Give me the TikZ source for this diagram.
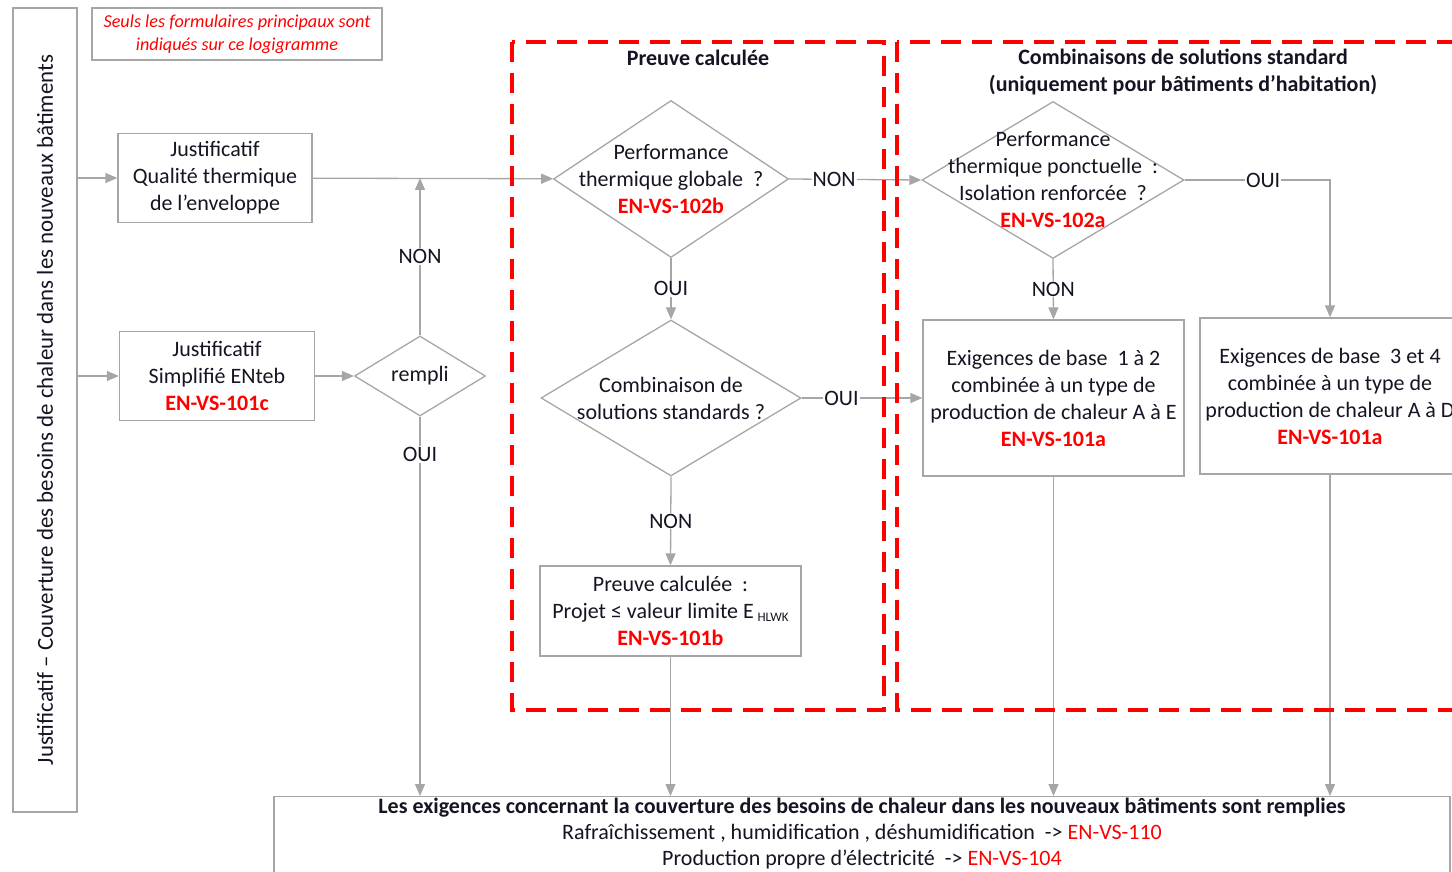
\documentclass[tikz,border=0pt]{standalone}
\usepackage{fontspec}
\setmainfont{Carlito}
\usepackage{tikz}
\usetikzlibrary{shapes.geometric,arrows.meta}
\definecolor{trait}{RGB}{166,166,166}
\definecolor{rouge}{RGB}{255,0,0}
\definecolor{encre}{RGB}{20,20,35}
\newcommand{\formu}[1]{{\bfseries\color{rouge}#1}}

\begin{document}
\begin{tikzpicture}[x=1pt,y=-1pt,
  font=\fontsize{22}{27}\selectfont, text=encre,
  boite/.style={draw=trait,line width=1.3pt,align=center,inner sep=0pt},
  losange/.style={draw=trait,line width=1.3pt,diamond,inner sep=0pt},
  fleche/.style={draw=trait,line width=1.3pt,-{Triangle[length=12pt,width=10pt]}},
  etiq/.style={fill=white,inner sep=1pt},
  zone/.style={draw=rouge,line width=3.5pt,dash pattern=on 20pt off 11pt}]
\useasboundingbox (0,0) rectangle (1452,872);
\clip (0,0) rectangle (1452,872);

\node[boite,minimum width=64,minimum height=804] (titre) at (45,410) {\rotatebox{90}{\fontsize{22.9}{27}\selectfont Justificatif – Couverture des besoins de chaleur dans les nouveaux bâtiments}};
\node[boite,minimum width=290,minimum height=52,font=\fontsize{18.2}{23}\selectfont\itshape,text=rouge] (note) at (237,34) {Seuls les formulaires principaux sont\\indiqués sur ce logigramme};

\node[boite,minimum width=194,minimum height=89] (qualite) at (215,178) {Justificatif\\Qualité thermique\\de l’enveloppe};
\node[boite,minimum width=195,minimum height=89] (enteb) at (217,376) {Justificatif\\Simplifié ENteb\\\formu{EN-VS-101c}};
\node[losange,minimum width=131,minimum height=80] (rempli) at (420,376) {rempli};

\node[font=\fontsize{22}{27}\selectfont\bfseries] (titre1) at (698,58) {Preuve calculée};
\node[font=\fontsize{22}{27}\selectfont\bfseries,align=center] (titre2) at (1183,72) {Combinaisons de solutions standard\\(uniquement pour bâtiments d’habitation)};

\node[losange,minimum width=235,minimum height=157] (globale) at (671,179) {};
\node[align=center] (globalet) at (globale) {Performance\\thermique globale~~?\\\formu{EN-VS-102b}};
\node[losange,minimum width=260,minimum height=156] (combi) at (671,398) {};
\node[align=center] (combit) at (combi) {Combinaison de\\solutions standards ?};
\node[boite,minimum width=261,minimum height=90] (calcul) at (670.5,611) {Preuve calculée~~:\\Projet ≤ valeur limite E\,\raisebox{-3pt}{\fontsize{13}{13}\selectfont HLWK}\\\formu{EN-VS-101b}};

\node[losange,minimum width=262,minimum height=157] (ponct) at (1053,180) {};
\node[align=center] (ponctt) at (ponct) {Performance\\thermique ponctuelle~~:\\Isolation renforcée~~?\\\formu{EN-VS-102a}};
\node[boite,minimum width=261,minimum height=156] (base12) at (1053.5,398) {Exigences de base~~1 à 2\\combinée à un type de\\production de chaleur A à E\\\formu{EN-VS-101a}};
\node[boite,minimum width=260,minimum height=156] (base34) at (1330,396) {Exigences de base~~3 et 4\\combinée à un type de\\production de chaleur A à D\\\formu{EN-VS-101a}};

\node[boite,minimum width=1176,minimum height=120,anchor=north] (fin) at (862,796) {};
\node[font=\fontsize{22}{26}\selectfont,align=center,anchor=north,inner sep=0pt] (fintxt) at (862,798) {\textbf{Les exigences concernant la couverture des besoins de chaleur dans les nouveaux bâtiments sont remplies}\\Rafraîchissement , humidification , déshumidification~~-> \textcolor{rouge}{EN-VS-110}\\Production propre d’électricité~~-> \textcolor{rouge}{EN-VS-104}};

\draw[fleche] (titre.east |- qualite.west) -- (qualite.west);
\draw[fleche] (titre.east |- enteb.west) -- (enteb.west);
\draw[fleche] (qualite) -- (globale);
\draw[fleche] (enteb) -- (rempli);
\draw[fleche] (rempli.north) -- node[etiq]{NON} (rempli.north |- qualite.east);
\draw[fleche] (rempli.south) -- node[etiq,pos=0.1]{OUI} (rempli.south |- fin.north);
\draw[fleche] (globale.east) -- node[etiq,pos=0.34]{NON} (ponct.west);
\draw[fleche] (globale.south) -- node[etiq]{OUI} (combi.north);
\draw[fleche] (combi.east) -- node[etiq,pos=0.33]{OUI} (combi.east -| base12.west);
\draw[fleche] (combi.south) -- node[etiq]{NON} (calcul.north);
\draw[fleche] (calcul.south) -- (calcul.south |- fin.north);
\draw[fleche] (ponct.south) -- node[etiq]{NON} (base12.north);
\draw[fleche] (ponct.east) -| node[etiq,pos=0.27]{OUI} (base34.north);
\draw[fleche] (base12.south) -- (base12.south |- fin.north);
\draw[fleche] (base34.south) -- (base34.south |- fin.north);

\draw[zone] (512,42) rectangle (884,710);
\draw[zone] (897,42) rectangle (1470,710);
\end{tikzpicture}
\end{document}
